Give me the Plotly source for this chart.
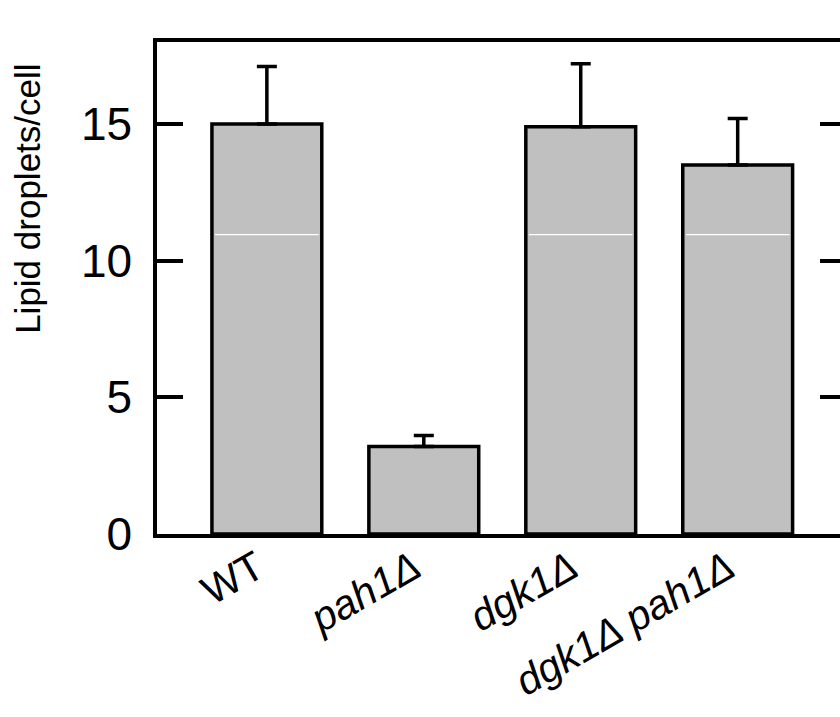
import plotly.graph_objects as go

# Lipid droplet counts per cell for each yeast strain
strains = ["WT", "pah1Δ", "dgk1Δ", "dgk1Δ pah1Δ"]
strain_labels = ["WT", "<i>pah1Δ</i>", "<i>dgk1Δ</i>", "<i>dgk1Δ pah1Δ</i>"]
droplets_mean = [15.0, 3.2, 14.9, 13.5]
droplets_sd = [2.1, 0.4, 2.3, 1.7]
y_ticks = [0, 5, 10, 15]

FONT = "Liberation Sans, Arial, sans-serif"
BAR_W = 0.70

fig = go.Figure()
fig.add_trace(go.Bar(
    x=list(range(len(strains))),
    y=droplets_mean,
    width=BAR_W,
    marker=dict(color="#c0c0c0", line=dict(color="black", width=3.5)),
    error_y=dict(type="data", symmetric=False, array=droplets_sd,
                 arrayminus=[0] * len(strains), color="black",
                 thickness=3.5, width=10),
    showlegend=False,
))
# invisible trace carrying the right-hand mirrored ticks
fig.add_trace(go.Scatter(x=[0], y=[0], yaxis="y2", mode="markers",
                         marker=dict(opacity=0), showlegend=False,
                         hoverinfo="skip"))

# thin light streak across the taller bars
for i, v in enumerate(droplets_mean):
    if v > 10.95:
        fig.add_shape(type="line", xref="x", yref="y",
                      x0=i - BAR_W / 2 + 0.02, x1=i + BAR_W / 2 - 0.02,
                      y0=10.95, y1=10.95,
                      line=dict(color="white", width=1.2), layer="above")

fig.update_layout(
    width=840, height=717,
    margin=dict(l=157, r=0, t=42, b=183),
    plot_bgcolor="white", paper_bgcolor="white",
    font=dict(family=FONT, color="black", size=34),
    xaxis=dict(
        tickmode="array",
        tickvals=list(range(len(strains))),
        ticktext=strain_labels,
        tickangle=-30,
        range=[-0.7, 3.652],
        showline=True, linecolor="black", linewidth=3.5,
        mirror=True, ticks="", showgrid=False, zeroline=False,
        ticklabelshift=-10, ticklabelstandoff=-10,
        tickfont=dict(family=FONT, size=41, color="black"),
    ),
    yaxis=dict(
        range=[0, 18],
        tickvals=y_ticks,
        ticks="inside", ticklen=26, tickwidth=3.5, tickcolor="black",
        showline=True, linecolor="black", linewidth=3.5,
        showgrid=False, zeroline=False,
        ticklabelstandoff=12,
        tickfont=dict(family=FONT, size=46, color="black"),
    ),
    yaxis2=dict(
        overlaying="y", side="right", range=[0, 18],
        tickvals=y_ticks,
        ticks="inside", ticklen=20, tickwidth=3.5, tickcolor="black",
        showticklabels=False, showline=False, showgrid=False,
        zeroline=False,
    ),
    annotations=[dict(
        text="Lipid droplets/cell", textangle=-90,
        xref="paper", yref="paper", x=-0.189, y=0.681,
        xanchor="center", yanchor="middle", showarrow=False,
        font=dict(family=FONT, size=35, color="black"),
    )],
)

fig.write_html("out.html")
